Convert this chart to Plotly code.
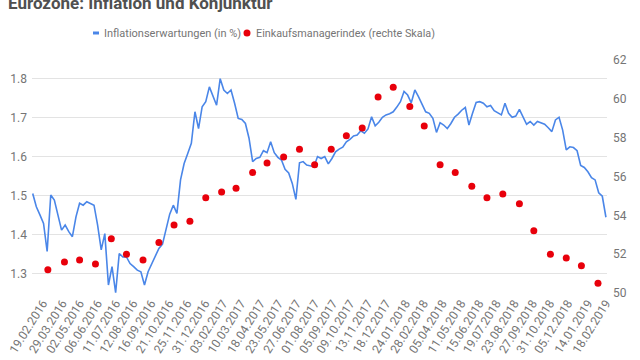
import pandas as pd
import plotly.graph_objects as go

# Inflation expectations (in %), weekly readings (Mondays) 01.02.2016 - 18.02.2019
infl_start = "2016-02-01"
infl_end = "2019-02-18"
infl_values = [
    1.505, 1.471, 1.450, 1.428, 1.356, 1.501, 1.488, 1.445, 1.411, 1.424,
    1.407, 1.394, 1.445, 1.480, 1.475, 1.484, 1.480, 1.475, 1.424, 1.360,
    1.402, 1.270, 1.317, 1.250, 1.351, 1.342, 1.342, 1.325, 1.317, 1.308,
    1.304, 1.270, 1.304, 1.325, 1.347, 1.364, 1.375, 1.411, 1.452, 1.475,
    1.454, 1.540, 1.582, 1.608, 1.634, 1.715, 1.672, 1.728, 1.741, 1.779,
    1.755, 1.732, 1.800, 1.771, 1.762, 1.771, 1.737, 1.698, 1.695, 1.685,
    1.647, 1.587, 1.595, 1.598, 1.615, 1.610, 1.638, 1.610, 1.598, 1.591,
    1.567, 1.558, 1.531, 1.490, 1.584, 1.587, 1.578, 1.575, 1.574, 1.600,
    1.595, 1.600, 1.581, 1.595, 1.612, 1.619, 1.624, 1.638, 1.644, 1.653,
    1.655, 1.666, 1.660, 1.671, 1.702, 1.679, 1.688, 1.701, 1.707, 1.710,
    1.715, 1.727, 1.741, 1.767, 1.758, 1.738, 1.771, 1.754, 1.734, 1.715,
    1.711, 1.698, 1.662, 1.687, 1.681, 1.672, 1.685, 1.701, 1.709, 1.719,
    1.726, 1.681, 1.711, 1.739, 1.741, 1.737, 1.728, 1.731, 1.718, 1.713,
    1.707, 1.737, 1.711, 1.701, 1.704, 1.721, 1.702, 1.683, 1.690, 1.681,
    1.690, 1.687, 1.683, 1.674, 1.664, 1.694, 1.701, 1.668, 1.617, 1.625,
    1.623, 1.615, 1.577, 1.572, 1.561, 1.546, 1.540, 1.507, 1.498, 1.444,
]

# Eurozone manufacturing PMI, Feb 2016 - Jan 2019 (plotted at release, first business day of next month)
pmi_first_release = "2016-03-01"
pmi_values = [
    51.2, 51.6, 51.7, 51.5, 52.8, 52.0, 51.7, 52.6, 53.5, 53.7, 54.9, 55.2,
    55.4, 56.2, 56.7, 57.0, 57.4, 56.6, 57.4, 58.1, 58.5, 60.1, 60.6, 59.6,
    58.6, 56.6, 56.2, 55.5, 54.9, 55.1, 54.6, 53.2, 52.0, 51.8, 51.4, 50.5,
]

# x-axis tick labels (every 25th trading day)
tick_labels = [
    "19.02.2016", "29.03.2016", "02.05.2016", "06.06.2016", "11.07.2016",
    "12.08.2016", "16.09.2016", "21.10.2016", "25.11.2016", "31.12.2016",
    "03.02.2017", "10.03.2017", "18.04.2017", "23.05.2017", "27.06.2017",
    "01.08.2017", "05.09.2017", "09.10.2017", "13.11.2017", "18.12.2017",
    "24.01.2018", "28.02.2018", "05.04.2018", "11.05.2018", "15.06.2018",
    "19.07.2018", "23.08.2018", "27.09.2018", "31.10.2018", "05.12.2018",
    "14.01.2019", "18.02.2019",
]
left_ticks = [1.3, 1.4, 1.5, 1.6, 1.7, 1.8]
right_ticks = [50, 52, 54, 56, 58, 60, 62]

infl_dates = pd.date_range(infl_start, infl_end, freq="W-MON")
pmi_dates = pd.date_range(pmi_first_release, periods=len(pmi_values), freq="BMS")
# weekend label dates sit on the preceding trading day (weekends are hidden on the axis)
tick_dates = [pd.offsets.BDay().rollback(d) for d in pd.to_datetime(tick_labels, format="%d.%m.%Y")]

BLUE = "#4a86e8"
RED = "#e8000b"
GRAY = "#757575"
FONT = "Roboto, sans-serif"

fig = go.Figure()
fig.add_trace(go.Scatter(
    x=infl_dates, y=infl_values, mode="lines", name="Inflationserwartungen (in %)",
    line=dict(color=BLUE, width=1.6), yaxis="y",
))
fig.add_trace(go.Scatter(
    x=pmi_dates, y=pmi_values, mode="markers", name="Einkaufsmanagerindex (rechte Skala)",
    marker=dict(color=RED, size=7), yaxis="y2",
))

# plot area: x 32..607 px, y 60..293 px
L, R, T, B = 32, 607, 60, 293
W, H = R - L, B - T

def px(x):
    return (x - L) / W

def py(y):
    return (B - y) / H

shapes = [
    dict(type="line", xref="paper", yref="paper", x0=px(93), x1=px(99), y0=py(33), y1=py(33),
         line=dict(color=BLUE, width=3)),
    dict(type="circle", xref="paper", yref="paper", xsizemode="pixel", ysizemode="pixel",
         xanchor=px(247), yanchor=py(33), x0=-3.5, x1=3.5, y0=-3.5, y1=3.5,
         fillcolor=RED, line=dict(width=0)),
]
annotations = [
    dict(text="Inflationserwartungen (in %)", xref="paper", yref="paper", x=px(102), y=py(33),
         xanchor="left", yanchor="middle", showarrow=False,
         font=dict(family=FONT, size=11, color=GRAY)),
    dict(text="Einkaufsmanagerindex (rechte Skala)", xref="paper", yref="paper", x=px(254), y=py(33),
         xanchor="left", yanchor="middle", showarrow=False,
         font=dict(family=FONT, size=10.8, color=GRAY)),
]

fig.update_layout(
    width=640, height=360,
    margin=dict(l=L, r=640 - R, t=T, b=360 - B, pad=0, autoexpand=False),
    paper_bgcolor="white", plot_bgcolor="white",
    showlegend=False,
    title=dict(text="<b>Eurozone: Inflation und Konjunktur</b>", xref="container", yref="container",
               x=8 / 640, xanchor="left", y=1 - 3 / 360, yanchor="middle",
               font=dict(family=FONT, size=17, color="#505050")),
    xaxis=dict(
        type="date", automargin=False,
        range=["2016-01-29", "2019-02-19 12:00"],
        rangebreaks=[dict(bounds=["sat", "mon"])],
        tickvals=tick_dates, ticktext=tick_labels, tickangle=-58,
        showgrid=False, zeroline=False, showline=False, ticks="",
        tickfont=dict(family=FONT, size=12, color=GRAY),
    ),
    yaxis=dict(
        automargin=False,
        range=[1.3 - 19.7 / 389.2, 1.8 + 18.7 / 389.2],
        tickvals=left_ticks, ticktext=[f"{v:.1f}" for v in left_ticks],
        showgrid=True, gridcolor="#e3e3e3", gridwidth=1, zeroline=False, showline=False,
        ticks="", ticklabelstandoff=4, tickfont=dict(family=FONT, size=12, color=GRAY),
    ),
    yaxis2=dict(
        automargin=False,
        range=[50, 62], overlaying="y", side="right",
        tickvals=right_ticks, showgrid=False, zeroline=False, showline=False,
        ticks="", ticklabelstandoff=5,
        tickfont=dict(family=FONT, size=12, color=GRAY),
    ),
    shapes=shapes, annotations=annotations,
)

fig.write_html("out.html", config={"displayModeBar": False},
               post_script="document.body.style.margin='0';")
